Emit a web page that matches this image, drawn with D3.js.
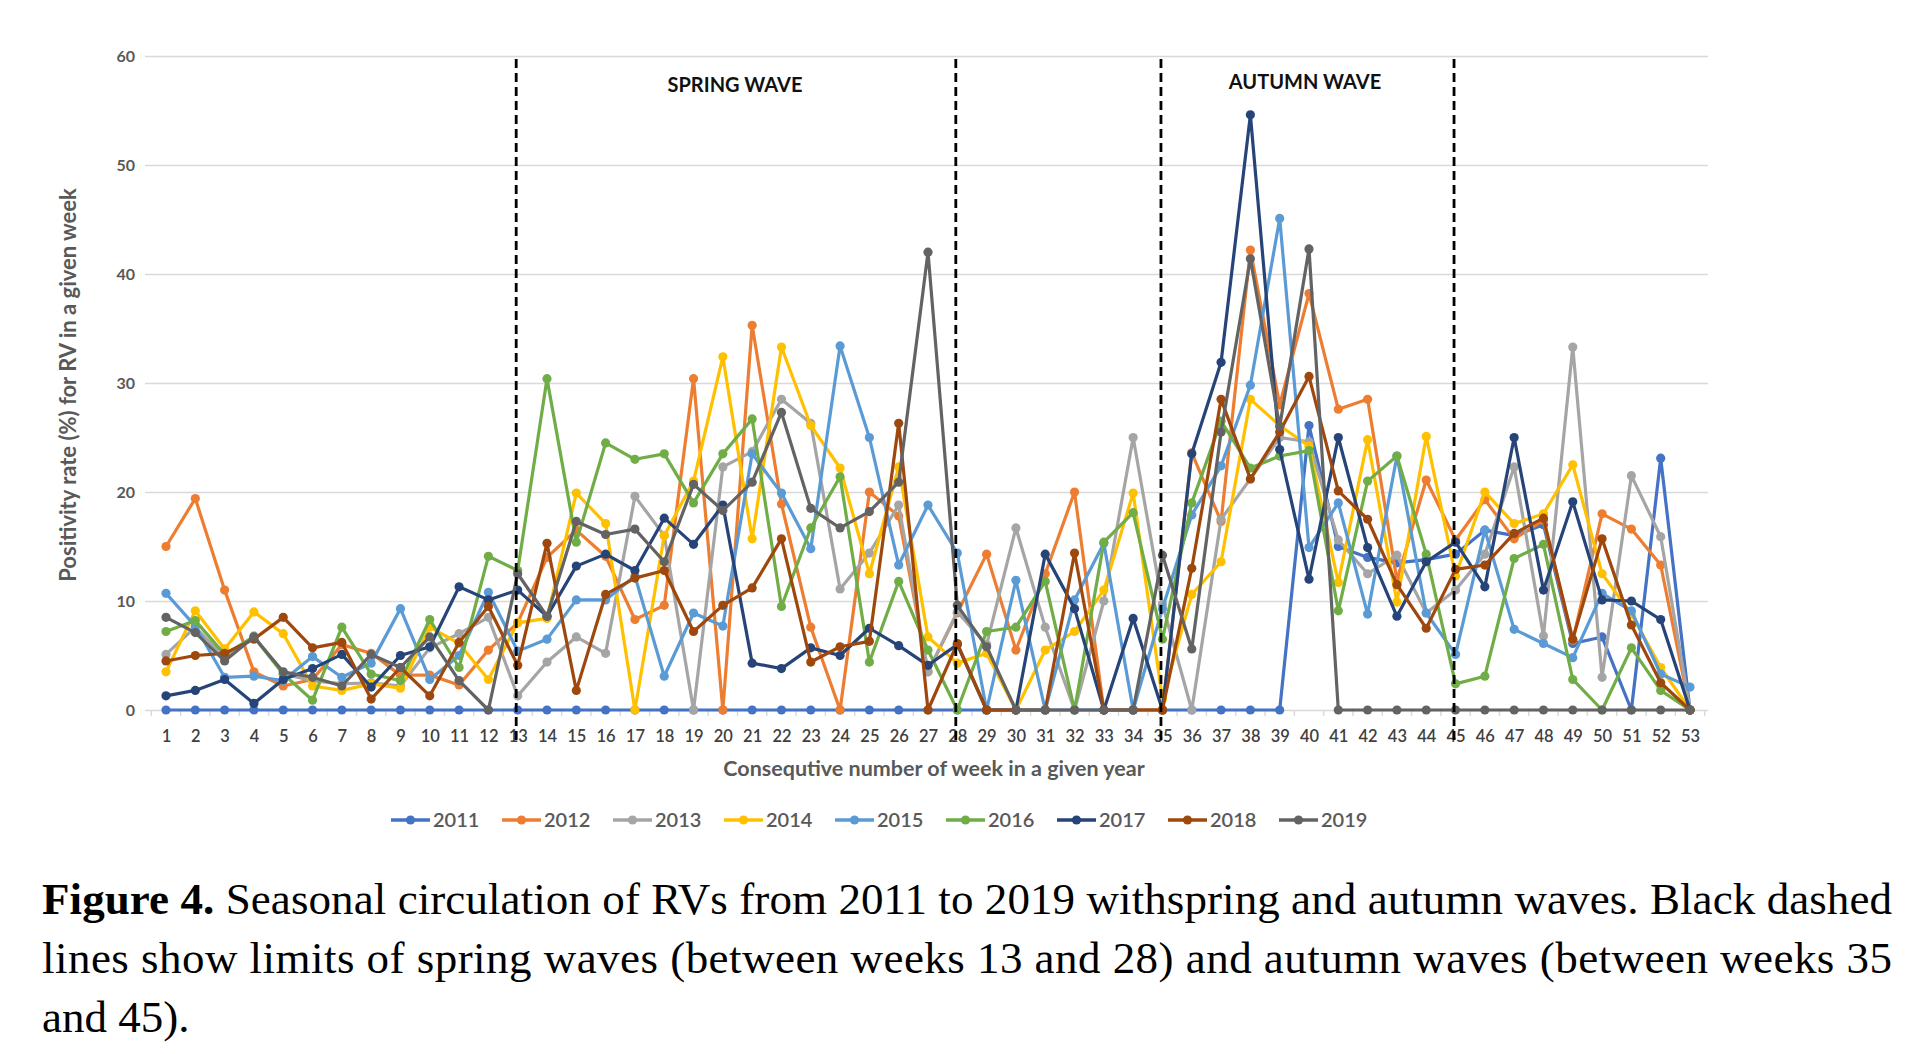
<!DOCTYPE html>
<html><head><meta charset="utf-8">
<script src="https://cdn.jsdelivr.net/npm/d3@7"></script>
<style>body{margin:0;background:#fff;} svg{display:block;}</style>
</head><body>
<svg id="c" width="1914" height="1054"></svg>
<script>
const weeks = d3.range(1, 54);
const years = ["2011","2012","2013","2014","2015","2016","2017","2018","2019"];
const colors = ["#4472C4","#ED7D31","#A5A5A5","#FFC000","#5B9BD5","#70AD47","#264478","#9E480E","#636363"];
const yTicks = [0,10,20,30,40,50,60];
const waveLimits = [13, 28, 35, 45];
const waveLabels = [{text:"SPRING WAVE", from:13, to:28}, {text:"AUTUMN WAVE", from:35, to:45}];

const s2011 = [0,0,0,0,0,0,0,0,0,0, 0,0,0,0,0,0,0,0,0,0, 0,0,0,0,0,0,0,0,0,0, 0,0,0,0,0,0,0,0,0,26.1, 15,14,13.5,13.8,14.3,16.5,16,17,6.1,6.7, 0,23.1,0];
const s2012 = [15.0,19.4,11.0,3.5,2.2,2.8,6.0,5.2,3.2,3.2, 2.3,5.5,8.0,14.0,16.5,14.1,8.3,9.6,30.4,0, 35.3,18.9,7.6,0,20.0,17.8,3.5,8.9,14.3,5.5, 12.5,20.0,0,0,0,23.6,17.3,42.2,28.0,38.2, 27.6,28.5,11.9,21.1,15.6,19.3,15.7,17.4,6.4,18.0, 16.6,13.3,0];
const s2013 = [5.1,7.6,4.8,6.8,3.3,2.7,2.4,2.5,2.2,5.7, 7.0,8.5,1.3,4.4,6.7,5.2,19.6,16.0,0,22.3, 23.7,28.5,26.3,11.1,14.4,18.8,3.5,9.0,6.0,16.7, 7.6,0,10.0,25.0,9.7,0,17.5,21.2,25.0,24.6, 15.6,12.5,14.2,8.9,11.0,14.3,22.3,6.8,33.3,3.0, 21.5,15.9,0];
const s2014 = [3.5,9.1,5.6,9.0,7.0,2.2,1.8,2.4,2.0,7.6, 6.1,2.8,8.0,8.4,19.9,17.1,0,16.0,21.0,32.4, 15.7,33.3,26.1,22.2,12.5,22.3,6.7,4.3,5.2,0, 5.5,7.2,11.0,19.9,1.0,10.6,13.6,28.5,26.1,24.2, 11.7,24.8,9.9,25.1,12.3,20.0,17.1,18.0,22.5,12.5, 8.8,3.9,0];
const s2015 = [10.7,7.7,3.0,3.1,2.7,4.9,3.0,4.3,9.3,2.8, 5.0,10.8,5.4,6.5,10.1,10.1,12.3,3.1,8.9,7.7, 23.5,19.9,14.8,33.4,25.0,13.3,18.8,14.4,0,11.9, 0,10.1,15.3,0,9.3,17.9,22.4,29.8,45.1,14.9, 19.0,8.8,23.3,8.9,5.1,16.5,7.4,6.1,4.8,10.7, 9.1,3.3,2.1];
const s2016 = [7.2,8.2,5.1,6.7,3.3,0.9,7.6,3.3,2.7,8.3, 3.9,14.1,12.8,30.4,15.4,24.5,23.0,23.5,19.0,23.5, 26.7,9.5,16.7,21.4,4.4,11.8,5.5,0,7.2,7.6, 11.8,0,15.4,18.1,6.5,19.0,26.5,22.2,23.3,23.8, 9.1,21.0,23.3,14.3,2.4,3.1,13.9,15.2,2.8,0, 5.7,1.8,0];
const s2017 = [1.3,1.8,2.8,0.6,2.8,3.8,5.1,2.1,5.0,5.8, 11.3,10.1,11.0,8.6,13.2,14.3,12.8,17.6,15.2,18.8, 4.3,3.8,5.7,5.0,7.5,5.9,4.1,6.0,0,0, 14.3,9.3,0,8.4,0,23.5,31.9,54.6,23.9,12.0, 25.0,14.9,8.6,13.6,15.4,11.3,25.0,11.0,19.1,10.1, 10.0,8.3,0];
const s2018 = [4.5,5.0,5.2,6.5,8.5,5.7,6.2,1.0,3.9,1.3, 6.2,9.5,4.1,15.3,1.8,10.6,12.1,12.8,7.2,9.6, 11.2,15.7,4.4,5.8,6.3,26.3,0,6.1,0,0, 0,14.4,0,0,0,13.0,28.5,21.2,25.5,30.6, 20.1,17.5,11.5,7.5,12.9,13.3,16.2,17.6,6.5,15.7, 7.8,2.5,0];
const s2019 = [8.5,7.1,4.5,6.7,3.5,3.0,2.2,5.1,3.9,6.7, 2.7,0,12.5,8.6,17.3,16.1,16.6,13.6,20.7,18.3, 20.9,27.3,18.5,16.7,18.2,20.9,42.0,9.6,5.8,0, 0,0,0,0,14.2,5.6,25.5,41.4,26.0,42.3, 0,0,0,0,0,0,0,0,0,0, 0,0,0];

const seriesValues = [s2011,s2012,s2013,s2014,s2015,s2016,s2017,s2018,s2019];
const series = years.map((yr,i)=>({year:yr, color:colors[i], values:seriesValues[i].map((v,j)=>({week:weeks[j], value:v}))}));

const svg = d3.select("#c");
const x = d3.scaleLinear().domain([1,53]).range([166,1690]);
const y = d3.scaleLinear().domain([0,60]).range([710,56]);
const gridLeft = 145, gridRight = 1708;
const axisFont = "Lato, 'Open Sans', sans-serif";

// y gridlines + labels
const yAxis = svg.append("g").attr("transform",`translate(${gridLeft},0)`)
  .call(d3.axisLeft(y).tickValues(yTicks).tickSize(-(gridRight-gridLeft)).tickPadding(10));
yAxis.select(".domain").remove();
yAxis.selectAll(".tick line").attr("stroke","#d9d9d9").attr("stroke-width",1.6);
yAxis.selectAll(".tick text").attr("fill","#595959").style("font-family",axisFont).style("font-size","16px").style("font-weight","700");

// x axis labels
const xAxis = svg.append("g").attr("transform","translate(0,710)")
  .call(d3.axisBottom(x).tickValues(weeks).tickFormat(d3.format("d")).tickSize(0).tickPadding(20));
xAxis.select(".domain").remove();
xAxis.selectAll(".tick text").attr("fill","#404040").style("font-family",axisFont).style("font-size","16.5px").style("font-weight","600");
// minor ticks between weeks
svg.append("g").selectAll("line").data(d3.range(0.5,54,1)).join("line")
  .attr("x1",d=>x(d)).attr("x2",d=>x(d)).attr("y1",710).attr("y2",716)
  .attr("stroke","#d9d9d9").attr("stroke-width",1.5);

// series
const line = d3.line().x(d=>x(d.week)).y(d=>y(d.value));
const gS = svg.append("g");
series.forEach(s=>{
  const g = gS.append("g");
  g.append("path").datum(s.values).attr("d",line).attr("fill","none")
   .attr("stroke",s.color).attr("stroke-width",3.2).attr("stroke-linejoin","round");
  g.selectAll("circle").data(s.values).join("circle")
   .attr("cx",d=>x(d.week)).attr("cy",d=>y(d.value)).attr("r",4.6).attr("fill",s.color);
});

// dashed wave limits
svg.append("g").selectAll("line").data(waveLimits).join("line")
  .attr("x1",d=>x(d)-1.5).attr("x2",d=>x(d)-1.5).attr("y1",59).attr("y2",744)
  .attr("stroke","#000").attr("stroke-width",2.8).attr("stroke-dasharray","9,5");

// wave labels
svg.append("g").selectAll("text").data(waveLabels).join("text")
  .attr("x",d=>d.text==="SPRING WAVE"?735:1305).attr("y",d=>d.text==="SPRING WAVE"?92:89)
  .attr("text-anchor","middle").style("font-family",axisFont).style("font-size","20px").style("font-weight","700")
  .attr("fill","#111").text(d=>d.text);

// axis titles
svg.append("text").attr("x",934).attr("y",776).attr("text-anchor","middle")
  .style("font-family",axisFont).style("font-size","21.5px").style("font-weight","700").attr("fill","#595959")
  .text("Consequtive number of week in a given year");
svg.append("text").attr("transform","translate(76,385) rotate(-90)").attr("text-anchor","middle")
  .style("font-family",axisFont).style("font-size","22px").style("font-weight","700").attr("fill","#595959")
  .text("Positivity rate (%) for RV in a given week");

// legend
const legend = svg.append("g").attr("transform","translate(391,820)");
const li = legend.selectAll("g").data(series).join("g").attr("transform",(d,i)=>`translate(${i*111},0)`);
li.append("line").attr("x1",0).attr("x2",39).attr("y1",0).attr("y2",0).attr("stroke",d=>d.color).attr("stroke-width",3.5);
li.append("circle").attr("cx",19.5).attr("cy",0).attr("r",4.6).attr("fill",d=>d.color);
li.append("text").attr("x",42).attr("y",7).style("font-family",axisFont).style("font-size","20px").style("font-weight","600")
  .attr("fill","#595959").text(d=>d.year);

// caption
const cap = svg.append("g").style("font-family","'Liberation Serif','DejaVu Serif',serif").style("font-size","45px").attr("fill","#000");
const l1 = cap.append("text").attr("x",42).attr("y",914).attr("textLength",1850).attr("lengthAdjust","spacing");
l1.append("tspan").style("font-weight","700").text("Figure 4.");
l1.append("tspan").text(" Seasonal circulation of RVs from 2011 to 2019 withspring and autumn waves. Black dashed");
cap.append("text").attr("x",42).attr("y",973).attr("textLength",1850).attr("lengthAdjust","spacing")
  .text("lines show limits of spring waves (between weeks 13 and 28) and autumn waves (between weeks 35");
cap.append("text").attr("x",42).attr("y",1032).text("and 45).");
</script>
</body></html>
